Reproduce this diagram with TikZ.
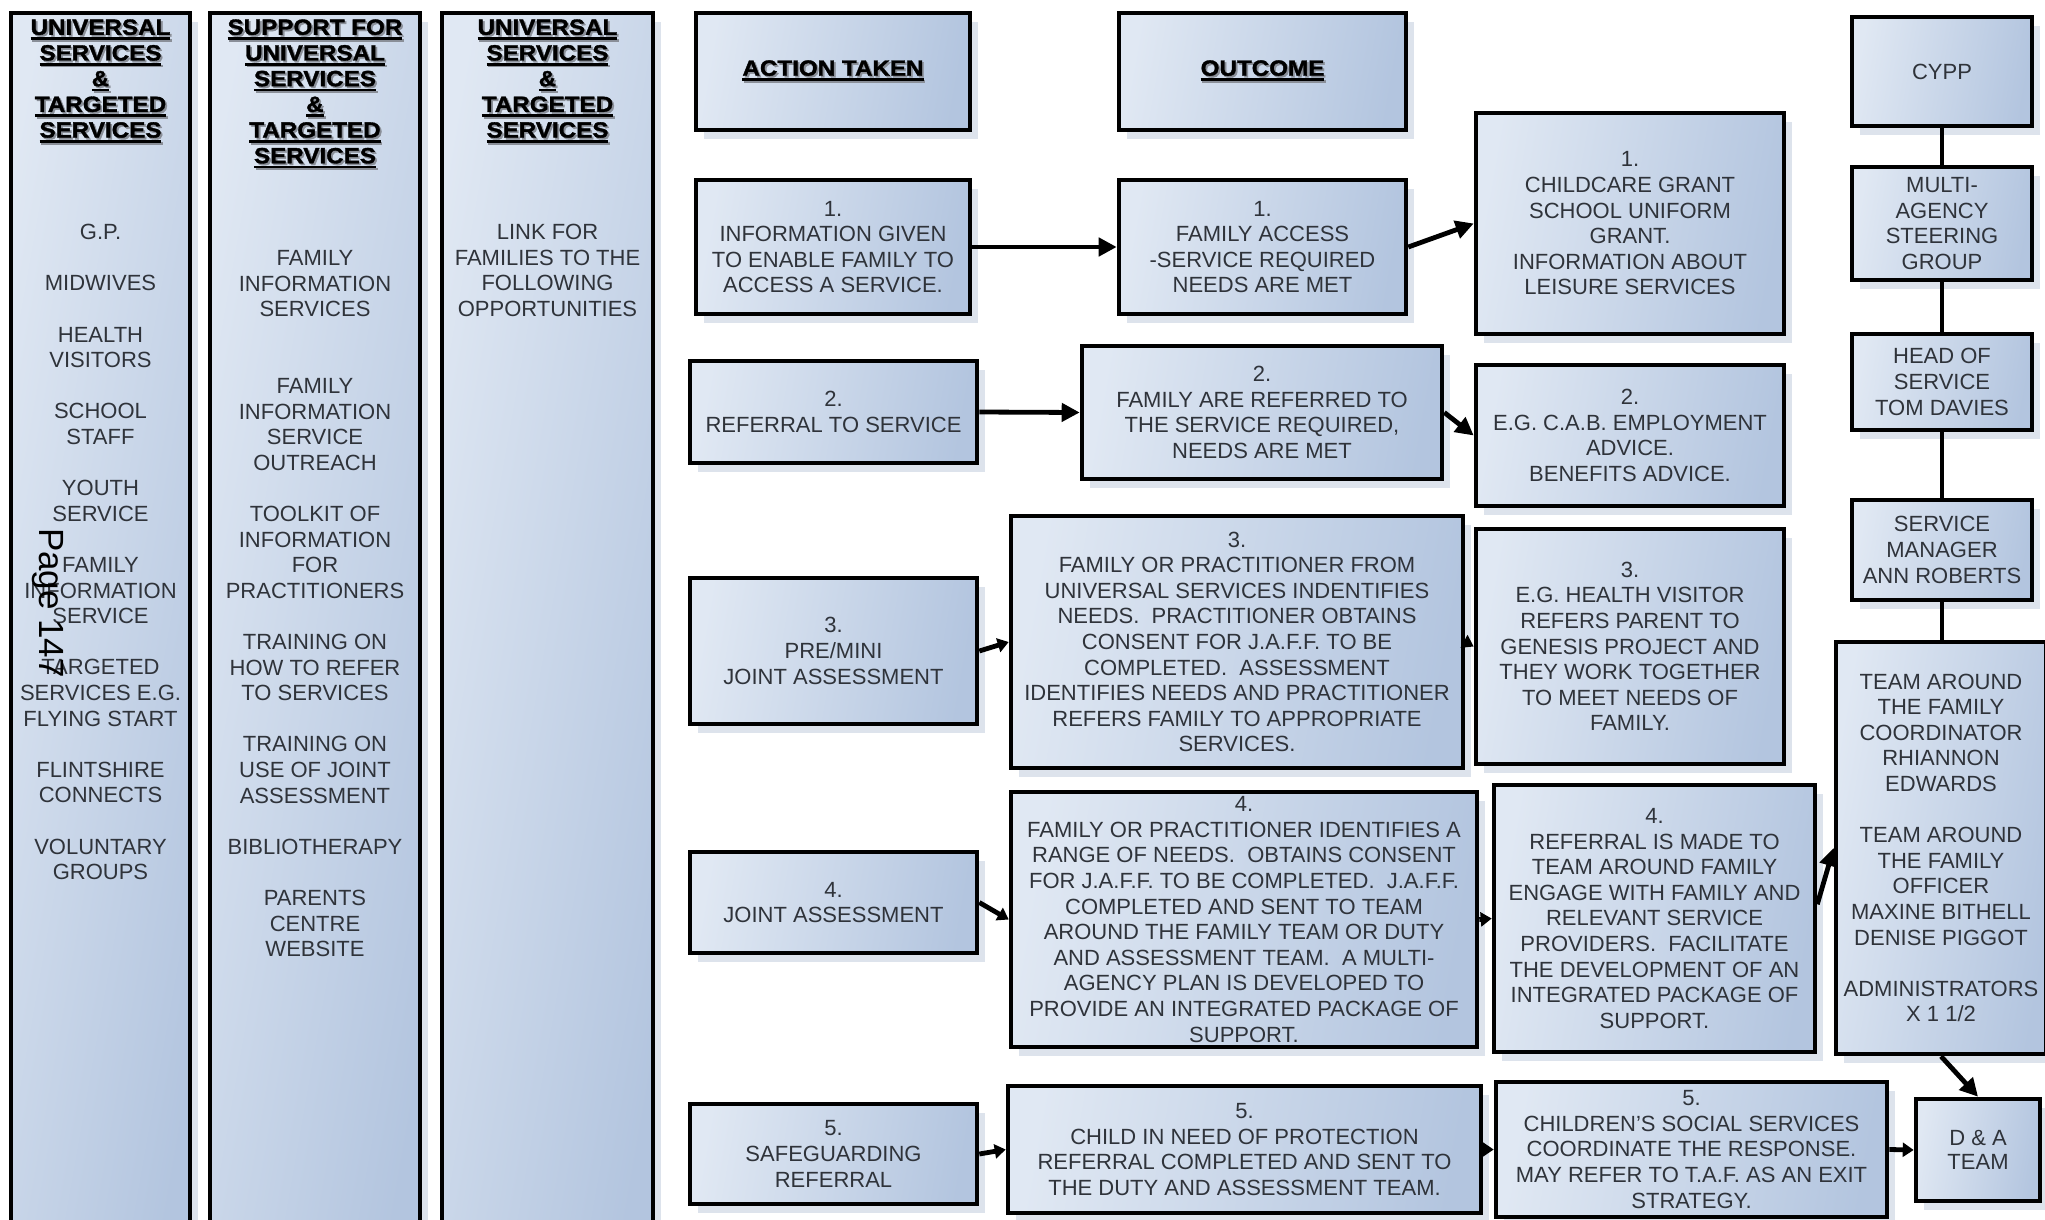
\documentclass[tikz,border=0pt]{standalone}
\usepackage{fontspec}
\setmainfont{Liberation Sans}
\newfontfamily\headfont{Liberation Sans}[FakeStretch=1.1, BoldFeatures={FakeBold=1.6}]
\usetikzlibrary{arrows.meta,shadows,calc}

\definecolor{boxL}{HTML}{E0E8F3}
\definecolor{boxR}{HTML}{B3C5DF}
\definecolor{shadowc}{HTML}{DDE3EC}
\definecolor{ink}{HTML}{2F333A}
\definecolor{hshadow}{HTML}{8A8F98}

% heavy underlined heading line with a soft grey offset shadow
\newcommand\hul[1]{\setbox0\hbox{#1}%
  \setbox2\hbox{\rlap{\rule[-2.6pt]{\wd0}{1.3pt}}\copy0}%
  \rlap{\kern0.9pt\raisebox{-0.9pt}{\color{hshadow}\copy2}}\box2}

\tikzset{
  panel/.style={draw=black, line width=2.3pt, left color=boxL, right color=boxR,
    shading angle=80,
    drop shadow={shadow xshift=4pt, shadow yshift=-4.5pt, fill=shadowc, opacity=1},
    inner sep=0pt, align=center, text=ink,
    font=\fontsize{11}{12.8}\selectfont},
  sz/.style 2 args={minimum width=#1*0.5pt, minimum height=#2*0.5pt},
  coltext/.style={anchor=north, align=center, inner sep=0pt, text=ink,
    font=\fontsize{11}{12.8}\selectfont},
  heading/.style={align=center, inner sep=0pt, text=black,
    font=\headfont\bfseries\fontsize{11}{12.85}\selectfont},
  flow/.style={line width=2.4pt, -{Triangle[length=9pt,width=9pt]}},
  shortflow/.style={line width=2.4pt, -{Triangle[length=5.5pt,width=7pt]}},
  link/.style={line width=2.4pt},
}

\begin{document}
\begin{tikzpicture}[x=0.5pt,y=-0.5pt]
\useasboundingbox (0,0) rectangle (2045,1220);
\clip (0,0) rectangle (2045,1220);
\fill[white] (0,0) rectangle (2045,1220);

% ---------- three service columns ----------
\node[panel, sz={179}{1232}] (c1) at (100.5,629) {};
\node[panel, sz={210}{1232}] (c2) at (315,629) {};
\node[panel, sz={211}{1232}] (c3) at (547.5,629) {};

\node[heading, anchor=north] (c1h) at (100.5,19)
  {\hul{UNIVERSAL}\\\hul{SERVICES}\\\hul{\&}\\\hul{TARGETED}\\\hul{SERVICES}};
\node[heading, anchor=north] (c2h) at (315,19)
  {\hul{SUPPORT FOR}\\\hul{UNIVERSAL}\\\hul{SERVICES}\\\hul{\&}\\\hul{TARGETED}\\\hul{SERVICES}};
\node[heading, anchor=north] (c3h) at (547.5,19)
  {\hul{UNIVERSAL}\\\hul{SERVICES}\\\hul{\&}\\\hul{TARGETED}\\\hul{SERVICES}};

\node[coltext] (c1t) at (100.5,224)
  {G.P.\\~\\MIDWIVES\\~\\HEALTH\\VISITORS\\~\\SCHOOL\\STAFF\\~\\YOUTH\\SERVICE\\~\\
   FAMILY\\INFORMATION\\SERVICE\\~\\TARGETED\\SERVICES E.G.\\FLYING START\\~\\
   FLINTSHIRE\\CONNECTS\\~\\VOLUNTARY\\GROUPS};
\node[coltext] (c2t) at (315,250)
  {FAMILY\\INFORMATION\\SERVICES\\~\\~\\FAMILY\\INFORMATION\\SERVICE\\OUTREACH\\~\\
   TOOLKIT OF\\INFORMATION\\FOR\\PRACTITIONERS\\~\\TRAINING ON\\HOW TO REFER\\TO SERVICES\\~\\
   TRAINING ON\\USE OF JOINT\\ASSESSMENT\\~\\BIBLIOTHERAPY\\~\\PARENTS\\CENTRE\\WEBSITE};
\node[coltext] (c3t) at (547.5,224)
  {LINK FOR\\FAMILIES TO THE\\FOLLOWING\\OPPORTUNITIES};

% ---------- column headings ----------
\node[panel, sz={274}{117}, heading] (act) at (833,71.5) {\hul{ACTION TAKEN}};
\node[panel, sz={287}{117}, heading] (out) at (1262.5,71.5) {\hul{OUTCOME}};

% ---------- row 1 ----------
\node[panel, sz={274}{134}] (a1) at (833,247)
  {1.\\INFORMATION GIVEN\\TO ENABLE FAMILY TO\\ACCESS A SERVICE.};
\node[panel, sz={287}{134}] (o1) at (1262.5,247)
  {1.\\FAMILY ACCESS\\-SERVICE REQUIRED\\NEEDS ARE MET};
\node[panel, sz={308}{221}] (r1) at (1630,223.5)
  {1.\\CHILDCARE GRANT\\SCHOOL UNIFORM\\GRANT.\\INFORMATION ABOUT\\LEISURE SERVICES};

% ---------- row 2 ----------
\node[panel, sz={287}{102}] (a2) at (833.5,412)
  {2.\\REFERRAL TO SERVICE};
\node[panel, sz={360}{133}] (o2) at (1262,412.5)
  {2.\\FAMILY ARE REFERRED TO\\THE SERVICE REQUIRED,\\NEEDS ARE MET};
\node[panel, sz={308}{141}] (r2) at (1630,435.5)
  {2.\\E.G. C.A.B. EMPLOYMENT\\ADVICE.\\BENEFITS ADVICE.};

% ---------- row 3 ----------
\node[panel, sz={287}{146}] (a3) at (833.5,651)
  {3.\\PRE/MINI\\JOINT ASSESSMENT};
\node[panel, sz={452}{252}] (o3) at (1237,642)
  {3.\\FAMILY OR PRACTITIONER FROM\\UNIVERSAL SERVICES INDENTIFIES\\
   NEEDS.~ PRACTITIONER OBTAINS\\CONSENT FOR J.A.F.F. TO BE\\COMPLETED.~ ASSESSMENT\\
   IDENTIFIES NEEDS AND PRACTITIONER\\REFERS FAMILY TO APPROPRIATE\\SERVICES.};
\node[panel, sz={308}{235}] (r3) at (1630,646.5)
  {3.\\E.G. HEALTH VISITOR\\REFERS PARENT TO\\GENESIS PROJECT AND\\THEY WORK TOGETHER\\
   TO MEET NEEDS OF\\FAMILY.};

% ---------- row 4 ----------
\node[panel, sz={287}{101}] (a4) at (833.5,902.5)
  {4.\\JOINT ASSESSMENT};
\node[panel, sz={466}{255}] (o4) at (1244,919.5)
  {4.\\FAMILY OR PRACTITIONER IDENTIFIES A\\RANGE OF NEEDS.~ OBTAINS CONSENT\\
   FOR J.A.F.F. TO BE COMPLETED.~ J.A.F.F.\\COMPLETED AND SENT TO TEAM\\
   AROUND THE FAMILY TEAM OR DUTY\\AND ASSESSMENT TEAM.~ A MULTI-\\
   AGENCY PLAN IS DEVELOPED TO\\PROVIDE AN INTEGRATED PACKAGE OF\\SUPPORT.};
\node[panel, sz={321}{267}] (r4) at (1654.5,918.5)
  {4.\\REFERRAL IS MADE TO\\TEAM AROUND FAMILY\\ENGAGE WITH FAMILY AND\\
   RELEVANT SERVICE\\PROVIDERS.~ FACILITATE\\THE DEVELOPMENT OF AN\\
   INTEGRATED PACKAGE OF\\SUPPORT.};

% ---------- row 5 ----------
\node[panel, sz={287}{100}] (a5) at (833.5,1154)
  {5.\\SAFEGUARDING\\REFERRAL};
\node[panel, sz={473}{127}] (o5) at (1244.5,1149.5)
  {5.\\CHILD IN NEED OF PROTECTION\\REFERRAL COMPLETED AND SENT TO\\
   THE DUTY AND ASSESSMENT TEAM.};
\node[panel, sz={391}{135}] (r5) at (1691.5,1149.5)
  {5.\\CHILDREN'S SOCIAL SERVICES\\COORDINATE THE RESPONSE.\\
   MAY REFER TO T.A.F. AS AN EXIT\\STRATEGY.};

% ---------- management chain ----------
\node[panel, sz={180}{109}] (cypp) at (1942,71.5) {CYPP};
\node[panel, sz={180}{113}] (mas) at (1942,223.5) {MULTI-\\AGENCY\\STEERING\\GROUP};
\node[panel, sz={180}{96}] (hos) at (1942,382) {HEAD OF\\SERVICE\\TOM DAVIES};
\node[panel, sz={180}{100}] (sm) at (1942,550) {SERVICE\\MANAGER\\ANN ROBERTS};
\node[panel, sz={210}{412}] (taf) at (1941,848)
  {TEAM AROUND\\THE FAMILY\\COORDINATOR\\RHIANNON\\EDWARDS\\~\\
   TEAM AROUND\\THE FAMILY\\OFFICER\\MAXINE BITHELL\\DENISE PIGGOT\\~\\
   ADMINISTRATORS\\X 1 1/2};
\node[panel, sz={124}{102}, font=\fontsize{11}{12}\selectfont] (da) at (1978,1150)
  {D \& A\\TEAM};

% ---------- connectors ----------
\draw[flow] (a1.east) -- (o1.west);
\draw[flow] (o1.east) -- (r1.west);
\draw[flow] (a2.east) -- (o2.west);
\draw[flow] (o2.east) -- (r2.west);
\draw[shortflow] (a3.east) -- (o3.west);
\draw[shortflow] (o3.east) -- (r3.west);
\draw[shortflow] (a4.east) -- (o4.west);
\draw[shortflow] (o4.east) -- (r4.west);
\draw[flow] (r4.5) -- (taf.west);
\draw[flow] (taf.south) -- (da.north);
\draw[shortflow] (a5.east) -- (o5.west);
\draw[shortflow] (o5.east) -- (r5.west);
\draw[shortflow] (r5.east) -- (da.west);

\draw[link] (cypp.south) -- (mas.north);
\draw[link] (mas.south) -- (hos.north);
\draw[link] (hos.south) -- (sm.north);
\draw[link] (sm.south) -- (sm.south |- taf.north);

% ---------- page number ----------
\node[rotate=-90, inner sep=0pt, text=black, font=\fontsize{17.5}{20}\selectfont]
  (pg) at (48,603) {Page 147};
\end{tikzpicture}
\end{document}
